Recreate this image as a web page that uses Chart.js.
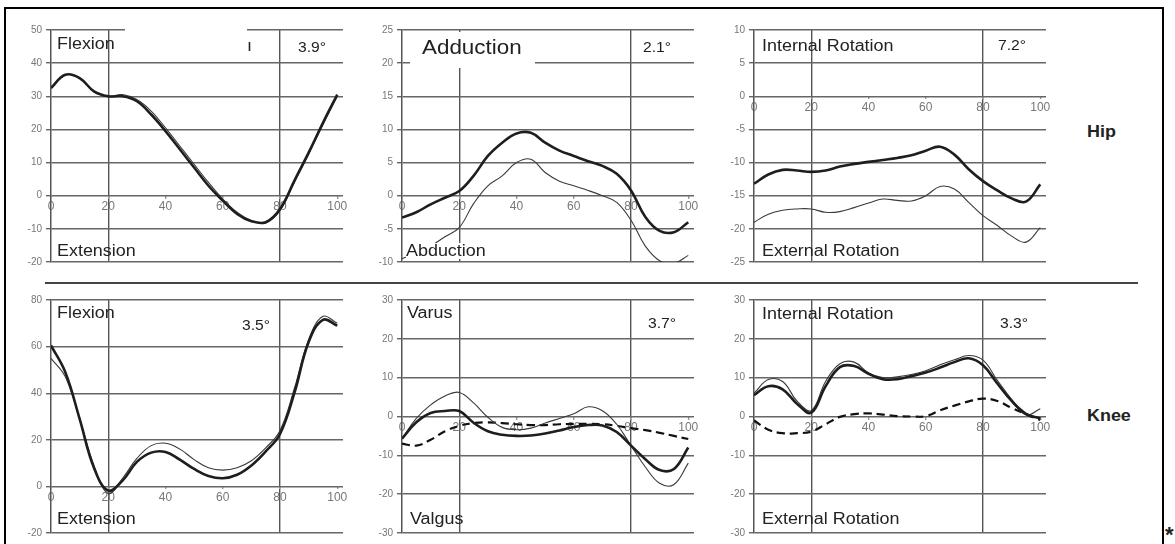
<!DOCTYPE html>
<html>
<head>
<meta charset="utf-8">
<script src="https://cdn.jsdelivr.net/npm/chart.js@4.4.0/dist/chart.umd.min.js"></script>
<style>
body{margin:0;background:#fff;font-family:"Liberation Sans",Arial,sans-serif;}
#wrap{position:relative;width:1175px;height:544px;overflow:hidden;}
#frame{position:absolute;left:4px;top:7px;width:1156px;height:600px;border:2px solid #000;}
#sep{position:absolute;left:45px;top:282px;width:1093px;height:0;border-top:2px solid #444;}
canvas{position:absolute;}
.t{position:absolute;font-size:16px;color:#222;white-space:nowrap;line-height:1;transform:scaleX(1.12);transform-origin:0 0;}
.d{font-size:14px;}
.b{font-weight:bold;}
.wb{background:#fff;}
.box{position:absolute;background:#fff;}
</style>
</head>
<body>
<div id="wrap">
<div id="frame"></div>
<div id="sep"></div>
<canvas id="c1" width="349" height="256"></canvas>
<canvas id="c2" width="349" height="256"></canvas>
<canvas id="c3" width="349" height="256"></canvas>
<canvas id="c4" width="349" height="257"></canvas>
<canvas id="c5" width="349" height="257"></canvas>
<canvas id="c6" width="349" height="257"></canvas>

<div class="box" style="left:125px;top:28px;width:122px;height:34px"></div>
<div class="t" style="left:247px;top:38px">ı</div>
<div class="t" style="left:57px;top:36px">Flexion</div>
<div class="t d" style="left:298px;top:40px">3.9°</div>
<div class="t" style="left:57px;top:243px">Extension</div>

<div class="box" style="left:410px;top:32px;width:125px;height:36px"></div>
<div class="t" style="left:422px;top:37px;font-size:20px">Adduction</div>
<div class="t d" style="left:643px;top:40px">2.1°</div>
<div class="t wb" style="left:406px;top:243px">Abduction</div>

<div class="t" style="left:762px;top:38px">Internal Rotation</div>
<div class="t d" style="left:998px;top:38px">7.2°</div>
<div class="t" style="left:762px;top:243px">External Rotation</div>

<div class="t" style="left:57px;top:305px">Flexion</div>
<div class="t d" style="left:242px;top:318px">3.5°</div>
<div class="t" style="left:57px;top:511px">Extension</div>

<div class="t" style="left:407px;top:305px">Varus</div>
<div class="t d" style="left:648px;top:316px">3.7°</div>
<div class="t" style="left:410px;top:511px">Valgus</div>

<div class="t" style="left:762px;top:306px">Internal Rotation</div>
<div class="t d" style="left:1000px;top:316px">3.3°</div>
<div class="t" style="left:762px;top:511px">External Rotation</div>

<div class="t b" style="left:1087px;top:124px">Hip</div>
<div class="t b" style="left:1087px;top:408px">Knee</div>
<div class="t b" style="left:1165px;top:524px;font-size:22px;transform:none">*</div>
</div>

<script>
// % of gait cycle
const pct=[0,5,10,15,20,25,30,35,40,45,50,55,60,65,70,75,80,85,90,95,100]

// hip
const hipFlexA=[32.5,36.5,35.5,31.5,30,30,28.5,24.5,19.5,14,8.5,3,-1.5,-5.5,-7.7,-8,-4,4.5,13,22,30.5]
const hipFlexB=[32.5,36.5,35.5,31.5,30,30.5,29,25.5,20.5,15,9.5,4,-1,-5,-7.5,-8.2,-4.5,4,12.5,21.5,30]
const hipAddA=[-3.3,-2.5,-1.3,-0.3,0.7,3,6,8,9.4,9.5,8,6.8,6,5.2,4.5,3.3,0.8,-3.2,-5.3,-5.5,-4]
const hipAddB=[-9.5,-8.7,-7.6,-6.2,-4.8,-1.2,1.5,3,5,5.5,3.5,2.2,1.5,0.8,0,-1,-3.7,-7.6,-9.8,-10.2,-9]
const hipRotA=[-13.2,-11.8,-11.1,-11.2,-11.4,-11.2,-10.6,-10.2,-9.9,-9.6,-9.3,-8.9,-8.2,-7.6,-8.8,-11,-12.8,-14.2,-15.4,-15.9,-13.3]
const hipRotB=[-19,-17.8,-17.2,-17,-17,-17.5,-17.4,-16.8,-16.1,-15.5,-15.7,-15.8,-15,-13.6,-14,-16,-18,-19.5,-21.1,-22,-19.8]

// knee
const kneeFlexA=[60.5,49,29,8,-1.8,2.5,10.5,14.5,14.8,11.5,7.5,4.5,3.5,5,9,15,22.5,40,62,71.5,69]
const kneeFlexB=[55,47,29,9,-3,3.5,12,17.5,18.5,16,11.5,8,7,8,11,16.5,24,42,63,73,70]
const kneeVarA=[-5.7,-1.5,0.9,1.4,1.4,-1.6,-3.8,-4.7,-5,-4.9,-4.4,-3.6,-2.7,-2.2,-2.3,-4,-7.5,-11,-13.8,-13.5,-8]
const kneeVarB=[-5.7,-0.5,3,5.3,6.2,3.5,-0.2,-2.8,-3.4,-3,-1.7,-0.5,0.7,2.5,1.5,-2,-7.5,-13,-17.2,-17.5,-12]
const kneeVarC=[-7,-7.5,-6,-3.8,-2.4,-1.7,-1.5,-1.7,-2,-2.2,-2.2,-2,-1.9,-1.9,-2,-2.4,-3,-3.5,-4.2,-5,-5.8]
const kneeRotA=[5.5,7.8,7,3.3,1,7.8,12.7,13,11,9.6,9.6,10.4,11.3,12.6,14,15,13.2,8.5,4,0.7,-0.5]
const kneeRotB=[6,9.5,9,4,1.5,9,13.6,14,11.2,10,10.2,10.8,11.8,13.3,14.6,15.7,14.5,9.3,4.4,0.4,2]
const kneeRotC=[-1,-3.4,-4.3,-4.3,-3.9,-2,-0.1,0.6,0.8,0.5,0.1,0,0.1,1.6,2.8,3.9,4.6,4,2.2,0.6,-0.9]

const styles={
  thick:{borderColor:'#1e1e1e',borderWidth:2.6},
  thin:{borderColor:'#3a3a3a',borderWidth:1.1},
  dash:{borderColor:'#111',borderWidth:2.2,borderDash:[8,5]}
}

const panels=[
  {id:'c1',left:51,top:30,h:232,min:-20,max:50,step:10,sets:[[hipFlexA,'thick'],[hipFlexB,'thin']]},
  {id:'c2',left:402,top:30,h:232,min:-10,max:25,step:5,sets:[[hipAddA,'thick'],[hipAddB,'thin']]},
  {id:'c3',left:754,top:30,h:232,min:-25,max:10,step:5,sets:[[hipRotA,'thick'],[hipRotB,'thin']]},
  {id:'c4',left:51,top:300,h:233,min:-20,max:80,step:20,sets:[[kneeFlexA,'thick'],[kneeFlexB,'thin']]},
  {id:'c5',left:402,top:300,h:233,min:-30,max:30,step:10,sets:[[kneeVarA,'thick'],[kneeVarB,'thin'],[kneeVarC,'dash']]},
  {id:'c6',left:754,top:300,h:233,min:-30,max:30,step:10,sets:[[kneeRotA,'thick'],[kneeRotB,'thin'],[kneeRotC,'dash']]}
]

const axisW=45, pad=12

const renderPanel=p=>{
  const cv=document.getElementById(p.id)
  cv.style.left=(p.left-axisW)+'px'
  cv.style.top=(p.top-pad)+'px'

  const data={
    datasets:p.sets.map(([vals,kind])=>({
      data:pct.map((x,i)=>({x,y:vals[i]})),
      ...styles[kind],
      pointRadius:0,
      tension:0.4,
      fill:false
    }))
  }

  const options={
    responsive:false,
    animation:false,
    devicePixelRatio:1,
    layout:{padding:{top:pad,bottom:pad,right:pad,left:0}},
    plugins:{legend:{display:false},tooltip:{enabled:false}},
    scales:{
      x:{
        type:'linear',
        min:0,max:102,
        position:{y:0},
        border:{display:false},
        grid:{
          color:c=>(c.tick&&(c.tick.value===20||c.tick.value===80))?'#555':'rgba(0,0,0,0)',
          lineWidth:1.4,
          tickColor:'#999',
          tickLength:3
        },
        ticks:{stepSize:20,includeBounds:false,color:'#777',padding:1,maxRotation:0,autoSkip:false,
          font:{family:'"Liberation Sans", Arial',size:12}}
      },
      y:{
        min:p.min,max:p.max,
        afterFit:s=>{s.width=axisW},
        border:{display:true,color:'#555',width:1.5},
        grid:{color:'#666',lineWidth:1.4,tickLength:5},
        ticks:{stepSize:p.step,color:'#777',padding:4,
          font:{family:'"Liberation Sans", Arial',size:10}}
      }
    }
  }

  new Chart(cv,{type:'line',data,options})
}

panels.forEach(renderPanel)
</script>
</body>
</html>
